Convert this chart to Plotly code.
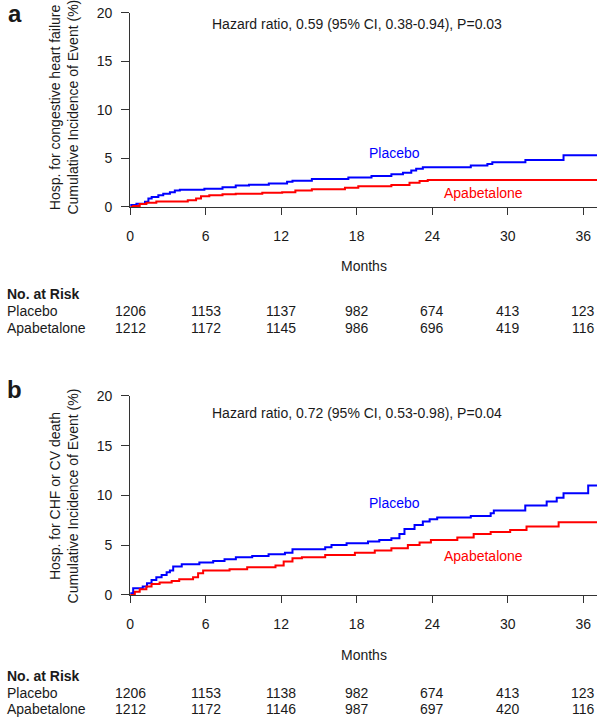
import plotly.graph_objects as go

W, H = 597, 723

# ---------------- data ----------------
months_ticks = [0, 6, 12, 18, 24, 30, 36]

# Panel a: hospitalisation for congestive heart failure
a_placebo_t = [0, 0.5, 1.18, 1.45, 1.71, 2.24, 2.63, 3.16, 3.55, 3.95, 5.9, 7.34, 8.39, 9.45,
               11.02, 12.47, 12.9, 14.44, 17.34, 19.18, 20.76, 21.68, 22.34, 22.73, 23.26,
               27.07, 28.39, 28.78, 31.41, 34.44, 37.1]
a_placebo_v = [0.2, 0.33, 0.53, 0.87, 1.03, 1.2, 1.37, 1.53, 1.7, 1.77, 1.87, 2.03, 2.2, 2.3,
               2.43, 2.6, 2.7, 2.87, 3.03, 3.2, 3.37, 3.53, 3.77, 3.93, 4.1,
               4.27, 4.43, 4.6, 4.83, 5.33, 5.33]
a_apab_t = [0, 0.24, 0.76, 1.29, 2.08, 4.58, 5.24, 5.63, 6.29, 7.34, 8.39, 10.5, 12.08, 13.13,
            14.44, 17.07, 18.13, 20.76, 22.2, 23.0, 23.65, 37.1]
a_apab_v = [0.0, 0.1, 0.3, 0.43, 0.57, 0.7, 0.87, 1.1, 1.2, 1.3, 1.37, 1.47, 1.53, 1.7,
            1.83, 1.97, 2.13, 2.27, 2.5, 2.67, 2.77, 2.77]

# Panel b: hospitalisation for CHF or CV death
b_placebo_t = [0, 0.24, 1.0, 1.34, 1.7, 2.08, 2.5, 2.9, 3.16, 3.42, 4.1, 5.5, 6.6, 7.5, 8.4,
               9.7, 11.0, 12.3, 12.9, 15.5, 16.0, 17.2, 18.9, 19.8, 20.76, 21.4, 21.8, 22.6,
               23.26, 23.8, 24.4, 27.07, 28.65, 28.9, 31.4, 33.1, 33.9, 34.44, 36.4, 37.1]
b_placebo_v = [0.17, 0.67, 0.84, 1.17, 1.51, 1.78, 2.01, 2.28, 2.45, 2.85, 3.08, 3.25, 3.42,
               3.58, 3.79, 3.92, 4.09, 4.25, 4.59, 4.79, 5.03, 5.19, 5.36, 5.53, 5.7, 6.13,
               6.63, 7.04, 7.37, 7.6, 7.77, 7.94, 8.21, 8.48, 8.98, 9.38, 9.78, 10.22, 10.99,
               10.99]
b_apab_t = [0, 0.37, 0.76, 1.29, 1.7, 2.34, 3.3, 3.9, 5.0, 5.4, 5.8, 7.9, 9.3, 11.55, 12.2,
            12.9, 13.65, 15.5, 17.86, 19.44, 20.76, 22.07, 23.0, 23.9, 26.0, 27.3, 28.65,
            30.2, 31.5, 34.05, 37.1]
b_apab_v = [0.0, 0.33, 0.57, 0.84, 1.1, 1.24, 1.41, 1.57, 1.78, 2.18, 2.45, 2.58, 2.78, 2.95,
            3.35, 3.69, 3.79, 4.02, 4.25, 4.46, 4.69, 5.03, 5.26, 5.53, 5.76, 6.13, 6.33,
            6.53, 6.87, 7.3, 7.3]

a_risk_placebo = [1206, 1153, 1137, 982, 674, 413, 123]
a_risk_apab = [1212, 1172, 1145, 986, 696, 419, 116]
b_risk_placebo = [1206, 1153, 1138, 982, 674, 413, 123]
b_risk_apab = [1212, 1172, 1146, 987, 697, 420, 116]

a_hr_text = "Hazard ratio, 0.59 (95% CI, 0.38-0.94), P=0.03"
b_hr_text = "Hazard ratio, 0.72 (95% CI, 0.53-0.98), P=0.04"
a_ytitle = ["Hosp. for congestive heart failure", "Cumulative Incidence of Event (%)"]
b_ytitle = ["Hosp. for CHF or CV death", "Cumulative Incidence of Event (%)"]

BLUE = "#0000FF"
RED = "#FF0000"
TXT = "#1a1a1a"
AX = "#333333"
FONT = "Liberation Sans, Arial, sans-serif"


def px(x):
    return x / W


def py(y):
    return 1 - y / H


def vy(y):
    # target pixel row -> paper fraction, offsetting the slight vertical shrink of the page shot
    p = (y - 8) / 0.978
    p = min(max(p, 0), H)
    return 1 - p / H


fig = go.Figure()

fig.add_trace(go.Scatter(x=a_placebo_t, y=a_placebo_v, mode="lines", line_shape="hv",
                         line=dict(color=BLUE, width=2), xaxis="x", yaxis="y", showlegend=False))
fig.add_trace(go.Scatter(x=a_apab_t, y=a_apab_v, mode="lines", line_shape="hv",
                         line=dict(color=RED, width=2), xaxis="x", yaxis="y", showlegend=False))
fig.add_trace(go.Scatter(x=b_placebo_t, y=b_placebo_v, mode="lines", line_shape="hv",
                         line=dict(color=BLUE, width=2), xaxis="x2", yaxis="y2", showlegend=False))
fig.add_trace(go.Scatter(x=b_apab_t, y=b_apab_v, mode="lines", line_shape="hv",
                         line=dict(color=RED, width=2), xaxis="x2", yaxis="y2", showlegend=False))

xcommon = dict(range=[0, 37.1], domain=[px(127), 1], tickmode="array", tickvals=months_ticks,
               ticks="outside", ticklen=7, tickcolor=AX, tickwidth=1, showline=True,
               linecolor=AX, linewidth=1, showgrid=False, zeroline=False,
               tickfont=dict(size=14, color=TXT, family=FONT), ticklabelstandoff=9)
ycommon = dict(range=[0, 20], tickmode="array", tickvals=[0, 5, 10, 15, 20],
               ticks="outside", ticklen=8, tickcolor=AX, tickwidth=1, showline=True,
               linecolor=AX, linewidth=1, showgrid=False, zeroline=False,
               tickfont=dict(size=14, color=TXT, family=FONT), ticklabelstandoff=6)

fig.update_layout(
    autosize=True, margin=dict(l=0, r=0, t=0, b=0, pad=0),
    paper_bgcolor="white", plot_bgcolor="white",
    font=dict(family=FONT, size=14, color=TXT),
    xaxis=dict(**xcommon, anchor="y"),
    yaxis=dict(**ycommon, domain=[vy(207), py(5)], anchor="x"),
    xaxis2=dict(**xcommon, anchor="y2"),
    yaxis2=dict(**ycommon, domain=[vy(595), vy(396)], anchor="x2"),
)

ann = []


def add_text(text, x, y, xref="paper", xanchor="center", size=14, color=TXT,
             bold=False, angle=0, yref="paper"):
    if bold:
        text = "<b>" + text + "</b>"
    ann.append(dict(text=text, x=x, y=y, xref=xref, yref=yref, xanchor=xanchor,
                    yanchor="middle", showarrow=False, textangle=angle,
                    font=dict(size=size, color=color, family=FONT)))


panels = [
    dict(off=0, label="a", label_y=py(6), hr=a_hr_text, yt=a_ytitle, rp=a_risk_placebo,
         ra=a_risk_apab, xref="x", yref="y", plac=(21.0, 5.6), apab=(28.1, 1.4), ymid=107,
         rows=[vy(294), vy(311), vy(328)]),
    dict(off=389, label="b", label_y=vy(389.5), hr=b_hr_text, yt=b_ytitle, rp=b_risk_placebo,
         ra=b_risk_apab, xref="x2", yref="y2", plac=(21.0, 9.25), apab=(28.1, 3.9), ymid=496,
         rows=[py(683), py(700), py(717)]),
]

for p in panels:
    o = p["off"]
    add_text(p["label"], px(11), p["label_y"], size=24, bold=True)
    add_text(p["hr"], px(355), vy(24 + o))
    add_text(p["yt"][0], px(51.5), vy(p["ymid"]), angle=-90)
    add_text(p["yt"][1], px(69), vy(p["ymid"]), angle=-90)
    add_text("Placebo", p["plac"][0], p["plac"][1], xref=p["xref"], yref=p["yref"], color=BLUE)
    add_text("Apabetalone", p["apab"][0], p["apab"][1], xref=p["xref"], yref=p["yref"], color=RED)
    add_text("Months", px(362), vy(266 + o))
    r0, r1, r2 = p["rows"]
    add_text("No. at Risk", px(1), r0, xanchor="left", bold=True)
    add_text("Placebo", px(1), r1, xanchor="left")
    add_text("Apabetalone", px(1), r2, xanchor="left")
    for m, n1, n2 in zip(months_ticks, p["rp"], p["ra"]):
        add_text(str(n1), m, r1, xref=p["xref"])
        add_text(str(n2), m, r2, xref=p["xref"])

fig.update_layout(annotations=ann)
fig.write_html(
    "out.html",
    config={"displayModeBar": False, "responsive": False},
    default_width=f"{W}px; position:fixed; left:0px; top:0px",
    default_height=f"{H}px",
)
